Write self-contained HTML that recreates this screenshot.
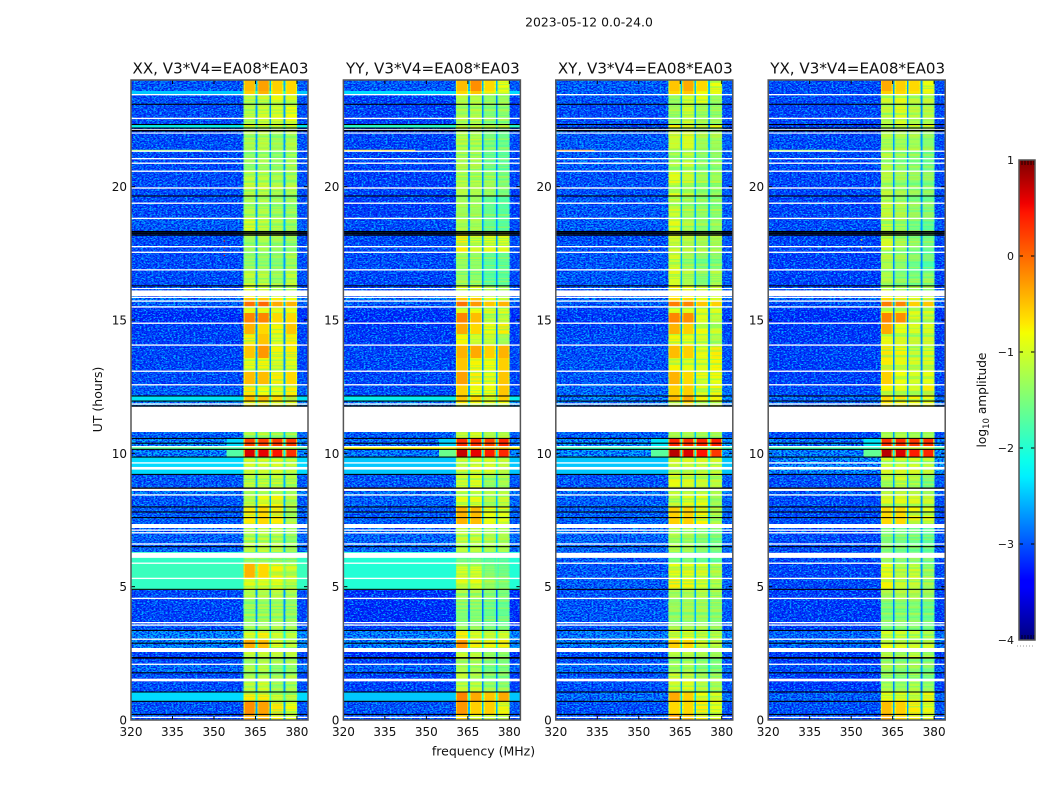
<!DOCTYPE html>
<html>
<head>
<meta charset="utf-8">
<title>2023-05-12 0.0-24.0</title>
<style>
html,body{margin:0;padding:0;background:#fff;width:1050px;height:800px;overflow:hidden}
svg{display:block}
text{font-family:"DejaVu Sans","Liberation Sans",sans-serif;fill:#111}
</style>
</head>
<body>
<svg id="chart" xmlns="http://www.w3.org/2000/svg" width="1050" height="800" viewBox="0 0 1050 800">
<defs>
<filter id="speckle-light" x="0" y="0" width="1" height="1" color-interpolation-filters="sRGB">
<feTurbulence type="fractalNoise" baseFrequency="0.5 0.7" numOctaves="2" seed="4"/>
<feColorMatrix type="matrix" values="0 0 0 0 0  0 0 0 0 0.72  0 0 0 0 1  11 0 0 0 -5.2"/>
</filter>
<filter id="speckle-dark" x="0" y="0" width="1" height="1" color-interpolation-filters="sRGB">
<feTurbulence type="fractalNoise" baseFrequency="0.5 0.7" numOctaves="2" seed="11"/>
<feColorMatrix type="matrix" values="0 0 0 0 0  0 0 0 0 0.06  0 0 0 0 0.92  11 0 0 0 -5.2"/>
</filter>
<filter id="band-stripes" x="0" y="0" width="1" height="1" color-interpolation-filters="sRGB">
<feTurbulence type="fractalNoise" baseFrequency="0.004 0.42" numOctaves="2" seed="7"/>
<feColorMatrix type="matrix" values="0 0 0 0 0.25  0 0 0 0 1  0 0 0 0 0.6  12 0 0 0 -6"/>
</filter>
<filter id="band-stripes-warm" x="0" y="0" width="1" height="1" color-interpolation-filters="sRGB">
<feTurbulence type="fractalNoise" baseFrequency="0.004 0.42" numOctaves="2" seed="19"/>
<feColorMatrix type="matrix" values="0 0 0 0 1  0 0 0 0 0.92  0 0 0 0 0  12 0 0 0 -6"/>
</filter>
<linearGradient id="jet-gradient" x1="0" y1="1" x2="0" y2="0">
<stop offset="0" stop-color="#00007f"/>
<stop offset="0.11" stop-color="#0000ff"/>
<stop offset="0.125" stop-color="#0000ff"/>
<stop offset="0.34" stop-color="#00f0ff"/>
<stop offset="0.375" stop-color="#0cffea"/>
<stop offset="0.5" stop-color="#7cff7a"/>
<stop offset="0.64" stop-color="#f5ff00"/>
<stop offset="0.66" stop-color="#ffe800"/>
<stop offset="0.89" stop-color="#ff1500"/>
<stop offset="0.91" stop-color="#f00000"/>
<stop offset="1" stop-color="#7f0000"/>
</linearGradient>
</defs>
</svg>
<script>
// ----- chart data (log10 amplitude) -----
const panelTitles = ["XX, V3*V4=EA08*EA03", "YY, V3*V4=EA08*EA03", "XY, V3*V4=EA08*EA03", "YX, V3*V4=EA08*EA03"];
const frequencyTicks = [320, 335, 350, 365, 380];
const hourTicks = [0, 5, 10, 15, 20];
const colorbarTicks = [1, 0, -1, -2, -3, -4];
const subbandEdges = [[360.7, 365.1], [365.7, 370.1], [370.7, 375.1], [375.8, 380.1]];
const segmentStartHours = [24, 23.59, 23.44, 23.1, 22.33, 22.2, 21.32, 20.59, 19.65, 18.79, 18.3, 17.55, 16.84, 16.28, 15.85, 15.71, 15.49, 15.26, 14.89, 14.48, 14.06, 13.58, 13.09, 12.56, 12.15, 11.96, 10.8, 10.58, 10.28, 10.16, 9.86, 9.19, 8.59, 8.4, 7.99, 7.2, 6.3, 5.89, 5.33, 4.88, 4.54, 3.56, 3.34, 3.0, 2.55, 2.29, 2.06, 1.76, 1.46, 1.05, 0.71, 0.22];

// each row: [background, subband1, subband2, subband3, subband4]
const xxRows = [
[-2.9,-.45,-.3,-.55,-.6],[-2.4,-.55,-.4,-.6,-.6],[-2.95,-1.15,-1.05,-.8,-.95],[-3,-1.15,-1,-.95,-.8],[-2.2,-.75,-.85,-.85,-.85],
[-3,-1.25,-1.15,-1.3,-1.2],[-3,-1.35,-1.25,-1.35,-1.25],[-3,-1.1,-1.1,-1.2,-1.2],[-3,-1.2,-1.2,-1.3,-1.35],[-2.85,-.95,-1.1,-1.2,-1.3],
[-3,-1.3,-1.2,-1.3,-1.4],[-3,-1.4,-1.4,-1.45,-1.3],[-3,-1.1,-1.15,-1.3,-1.1],[-3,-.8,-.9,-1.1,-1.1],[-2.6,-.5,-.5,-.7,-.8],
[-2.8,-.05,0,-.35,-.4],[-3.2,-.8,-.8,-.85,-.8],[-3.25,-.15,-.15,-.6,-.6],[-3.1,-.4,-.6,-.75,-.5],[-3.1,-.7,-.5,-.9,-.7],
[-3.05,-.5,-.25,-.75,-.7],[-3.05,-.85,-.75,-.95,-.9],[-3,-.45,-.45,-.7,-.6],[-2.85,-.65,-.8,-.85,-.7],[-2.25,-.45,-.45,-.6,-.65],
[-2.5,-.7,-.7,-.8,-.8],[-2.8,-1.25,-1.15,-1.3,-1.3],[-2.5,.2,.2,.25,.25],[-1.7,-.9,-.9,-.9,-.9],[-2.55,.6,.55,.45,.3],
[-2.3,-1,-1,-.95,-1.1],[-2.9,-1.1,-1.05,-1,-1.1],[-2.6,-1.2,-1.15,-1.15,-1.25],[-2.9,-1.15,-.8,-.75,-1.2],[-2.85,-.7,-.6,-.7,-1.2],
[-2.8,-1.15,-1.1,-1.15,-1.35],[-1.95,-1.4,-1.4,-1.5,-1.5],[-1.9,-.4,-.6,-.75,-1],[-1.95,-.9,-.9,-.85,-1.1],[-3,-1.2,-1.2,-1.15,-1.25],
[-3.05,-1.35,-1.3,-1.3,-1.4],[-2.9,-1.2,-1.2,-1.2,-1.3],[-2.5,-.95,-.7,-1,-1.1],[-2.5,-.35,-.45,-.9,-1.1],[-3.1,-1.1,-1.1,-1.15,-1.2],
[-3,-1.35,-1.2,-1.3,-1.3],[-2.7,-1.25,-1.15,-1.4,-1.35],[-3,-1.2,-1.2,-1.35,-1.25],[-3,-1.15,-1,-1.3,-1.25],[-2.3,-.7,-.7,-1.05,-1.15],
[-2.95,-.2,-.3,-.65,-.8],[-3,-.35,-.4,-.7,-.85]];
const yyRows = [
[-2.9,-.45,-.2,-.6,-.8],[-2.3,-.6,-.5,-.7,-.9],[-3.1,-1.15,-1.15,-1.35,-1.3],[-3.1,-1.25,-1.2,-1.45,-1.4],[-2,-.9,-.9,-1.1,-1.15],
[-3.05,-1.15,-1.2,-1.5,-1.6],[-3.05,-1.3,-1.3,-1.7,-1.75],[-3.1,-1.15,-1.2,-1.3,-1.5],[-3.1,-1.3,-1.3,-1.65,-1.75],[-3,-1.2,-1.25,-1.65,-1.75],
[-3,-.7,-1,-.9,-.9],[-3,-1.3,-1.35,-1.7,-1.7],[-3.05,-1.35,-1.4,-1.75,-1.7],[-3,-.9,-.9,-1.2,-1.3],[-2.6,-.5,-.5,-.8,-1],
[-2.9,-.05,-.25,-.5,-.4],[-3.2,-.9,-.8,-.9,-.9],[-3.25,-.15,-.45,-1.1,-1.1],[-3.15,-.35,-.6,-.8,-.7],[-3.15,-.75,-1,-1.05,-1.3],
[-3.05,-.4,-.35,-.55,-.4],[-3.05,-.5,-.75,-.8,-.55],[-3.05,-.3,-.7,-.85,-.5],[-3,-.55,-.8,-.8,-.5],[-2.2,-.5,-.6,-.8,-.55],
[-2.5,-.7,-.8,-.9,-.8],[-2.85,-1.1,-.95,-1.2,-1.15],[-2.7,.3,.3,.2,.35],[-.75,-.5,-.5,-.5,-.5],[-2.6,.7,.55,.4,.35],
[-2.4,-1.05,-.95,-.95,-1.1],[-2.9,-1,-.9,-1.35,-1.25],[-2.7,-1,-1,-1.1,-1.1],[-2.8,-.85,-.85,-1.2,-1.05],[-2.85,-.4,-.45,-.8,-.85],
[-2.75,-1.1,-1.1,-1.2,-1.2],[-2.05,-1.6,-1.6,-1.8,-1.8],[-2.05,-.95,-.95,-1.45,-1.6],[-2.05,-.9,-.85,-1.3,-1.5],[-3.25,-1.25,-1.25,-1.45,-1.5],
[-3.25,-1.45,-1.45,-1.6,-1.65],[-3.1,-1.3,-1.3,-1.5,-1.5],[-2.55,-.7,-.95,-1.05,-1],[-2.55,-.25,-.7,-.75,-.7],[-3.25,-1.05,-1.1,-1.3,-1.3],
[-3.1,-1.3,-1.2,-1.5,-1.5],[-2.8,-1.2,-1.25,-1.55,-1.5],[-3.1,-1.1,-1.25,-1.5,-1.5],[-3.1,-1.1,-1.1,-1.35,-1.4],[-2.4,-.15,-.35,-.5,-.35],
[-2.9,-.25,-.55,-.55,-.75],[-3,-.6,-.8,-.95,-1.1]];
const xyRows = [
[-2.85,-.5,-.35,-.6,-.8],[-2.8,-.6,-.5,-.8,-.85],[-2.9,-1.3,-.95,-.85,-1.3],[-3,-1.3,-1,-1.3,-1.35],[-3,-.75,-.95,-1.1,-.85],
[-2.85,-1.05,-.95,-1.3,-1.3],[-2.85,-1.2,-1.05,-1.4,-1.4],[-2.95,-.9,-1.05,-1.3,-1.3],[-2.9,-1,-1.25,-1.35,-1.4],[-2.85,-.9,-1.2,-1.4,-1.35],
[-2.95,-1.05,-1.2,-1.3,-1.3],[-2.9,-1,-1.35,-1.55,-1.5],[-2.9,-.95,-1.2,-1.45,-1.2],[-2.9,-.7,-.8,-1,-1],[-2.7,-.6,-.6,-.8,-.9],
[-2.85,-.1,-.15,-.5,-.55],[-3.1,-.85,-.85,-.85,-.9],[-3.15,-.15,-.2,-.9,-1.1],[-3.05,-.4,-.55,-.8,-1],[-3,-.75,-.85,-.95,-1.2],
[-2.95,-.45,-.55,-.85,-.7],[-2.95,-.75,-.85,-.9,-.75],[-2.9,-.4,-.6,-.85,-.8],[-2.75,-.55,-.55,-.85,-.75],[-2.55,-.45,-.35,-.75,-.75],
[-2.6,-.7,-.6,-.85,-.8],[-2.8,-1.25,-1.25,-1.3,-1.3],[-2.45,.35,.3,.35,.4],[-1.9,-1,-1,-1,-1],[-2.45,.75,.6,.45,.25],
[-2.4,-1.05,-1,-1,-1.05],[-2.9,-.85,-.95,-1.05,-1.15],[-2.65,-1.1,-1.1,-1.1,-1.2],[-2.8,-1.1,-.85,-.8,-1.25],[-2.8,-.55,-.55,-.75,-1.2],
[-2.75,-1.15,-1.2,-1.4,-1.55],[-2.9,-1.45,-1.4,-1.6,-1.7],[-2.9,-.85,-.85,-.95,-1.2],[-2.85,-.7,-.75,-.95,-1.15],[-2.95,-1.3,-1.25,-1.2,-1.3],
[-2.9,-1.45,-1.35,-1.35,-1.45],[-2.9,-1.3,-1.3,-1.25,-1.4],[-2.6,-.9,-.8,-1,-1.1],[-2.6,-.55,-.6,-1,-1.1],[-2.95,-1.1,-1.1,-1.2,-1.3],
[-2.95,-1.3,-1.2,-1.35,-1.45],[-2.7,-1.25,-1.2,-1.45,-1.5],[-2.95,-1.05,-1.15,-1.35,-1.4],[-2.95,-1.05,-.95,-1.2,-1.3],[-2.7,-.35,-.55,-.8,-.9],
[-2.95,-.6,-.6,-.7,-.85],[-3,-.3,-.5,-.7,-.85]];
const yxRows = [
[-3,-.35,-.55,-.6,-.8],[-3,-.55,-.6,-.65,-.85],[-3,-1.05,-.9,-1.2,-1.15],[-3.05,-1.15,-.95,-1.2,-1.2],[-3.05,-.85,-.75,-.75,-.75],
[-3,-1.2,-1.25,-1.25,-1.4],[-3,-1.2,-1.4,-1.45,-1.6],[-3.05,-1.2,-1.35,-1.45,-1.5],[-3.05,-1.15,-1.3,-1.5,-1.6],[-3,-1.1,-1.3,-1.55,-1.7],
[-3.05,-1,-1.3,-1.45,-1.6],[-3.1,-1.2,-1.4,-1.6,-1.8],[-3.1,-1.2,-1.45,-1.5,-1.4],[-3,-.85,-1,-1.1,-1.2],[-2.75,-.6,-.65,-.85,-1],
[-2.95,-.1,-.15,-.55,-.5],[-3.2,-.8,-.85,-.9,-.9],[-3.25,-.15,-.2,-.9,-1.05],[-3.15,-.35,-.85,-.95,-.95],[-3.15,-.85,-1,-1.15,-1.05],
[-3.1,-.65,-.75,-1.1,-.95],[-3.1,-.7,-.85,-1,-.95],[-3.1,-.55,-.8,-.95,-.85],[-3,-.75,-.85,-.95,-.7],[-2.75,-.6,-.65,-.75,-.8],
[-2.75,-.7,-.8,-.85,-.85],[-3,-1.2,-1.15,-1.25,-1.25],[-2.6,.3,.3,.25,.3],[-1.85,-1,-1,-1,-1],[-2.55,.75,.6,.4,.35],
[-2.5,-1,-1,-1,-1.1],[-2.95,-1.1,-.95,-1.15,-1.5],[-2.8,-1.15,-1.15,-1.2,-1.4],[-3,-.95,-.9,-.95,-1.05],[-3,-.6,-.6,-.75,-.85],
[-3,-1.5,-1.55,-1.6,-1.7],[-3,-1.45,-1.6,-1.55,-1.7],[-3.05,-.85,-1.15,-1.05,-1.35],[-3.05,-.75,-1.05,-1.1,-1.3],[-3.15,-1.3,-1.25,-1.25,-1.4],
[-3.15,-1.5,-1.45,-1.45,-1.6],[-3.1,-1.4,-1.4,-1.4,-1.5],[-2.75,-.95,-.95,-1.05,-1.15],[-2.75,-.8,-.9,-1,-1],[-3.15,-1.15,-1.3,-1.1,-1.3],
[-3.15,-1.3,-1.45,-1.35,-1.5],[-2.95,-1.3,-1.45,-1.35,-1.55],[-3.15,-1.2,-1.4,-1.3,-1.5],[-3.15,-1.2,-1.3,-1.15,-1.3],[-2.8,-.8,-.85,-1,-.75],
[-2.95,-.45,-.55,-.7,-.85],[-3,-.35,-.6,-.7,-.85]];
const panelRows = [xxRows, yyRows, xyRows, yxRows];

// brighter shoulder just below the band: [segment index, level]
const xxShoulders = [[27,-2.3],[29,-1.75]];
const yyShoulders = [[27,-2.35],[29,-1.6]];
const xyShoulders = [[27,-2.25],[29,-1.7]];
const yxShoulders = [[27,-2.25],[29,-1.65]];
const panelShoulders = [xxShoulders, yyShoulders, xyShoulders, yxShoulders];

// narrow interference features: [start MHz, end MHz, UT hour, level]
const xxStreaks = [[320,346,21.36,-1.3],[353.5,354,17.96,.6],[353.5,354,17.72,.6],[353.5,354,17.56,.5],[353.5,354,17.42,.6]];
const yyStreaks = [[320,346,21.36,-.6]];
const xyStreaks = [[320,334,21.36,-.2],[353.5,354,18.0,-.6],[353.5,354,17.6,-.5]];
const yxStreaks = [[320,345,21.36,-1.2],[353.5,354,18.0,-.6],[353.5,354,17.7,-.5]];
const panelStreaks = [xxStreaks, yyStreaks, xyStreaks, yxStreaks];

// flagged integrations, in UT hours: [upper, lower]
const blankFlags = [[23.475,23.425],[22.585,22.535],[22.16,22.12],[22.03,21.99],[21.355,21.305],[21.075,21.025],[20.905,20.855],[20.605,20.555],[19.975,19.925],[19.405,19.355],[18.835,18.785],[17.775,17.725],[17.565,17.515],[16.905,16.855],[16.2,16.16],[16.11,15.9],[15.875,15.825],[15.735,15.685],[15.515,15.465],[14.905,14.855],[14.085,14.035],[13.105,13.055],[12.595,12.545],[11.875,11.825],[11.75,10.8],[10.275,10.225],[9.665,9.615],[9.49,9.39],[8.72,8.59],[8.465,8.415],[7.35,7.2],[7.145,7.095],[7.045,6.995],[6.625,6.575],[6.27,6.08],[5.905,5.855],[5.335,5.285],[4.585,4.535],[3.675,3.625],[3.585,3.535],[3.055,3.005],[2.7,2.55],[2.115,2.065],[1.55,1.45],[0.125,0.075]];
const missingFlags = [[23.11,23.07],[22.35,22.31],[22.22,22.18],[22.13,22.07],[19.67,19.63],[18.34,18.27],[18.26,18.21],[18.2,18.16],[16.3,16.26],[12.17,12.13],[11.98,11.94],[11.8,11.75],[10.58,10.54],[10.4,10.36],[10.17,10.13],[9.88,9.84],[9.23,9.19],[8.72,8.67],[8.01,7.97],[7.82,7.78],[7.61,7.57],[6.52,6.48],[4.92,4.88],[3.38,3.34],[2.9,2.86],[2.36,2.3],[1.79,1.75],[1.07,1.03],[0.72,0.68],[0.23,0.19]];

// ----- layout and axis functions -----
const svg = document.getElementById('chart');
const SVGNS = 'http://www.w3.org/2000/svg';
const plotTop = 80, plotHeight = 640, plotWidth = 177, firstLeft = 131, panelStep = 212.4;
const freqMin = 320, freqMax = 384, hourMin = 0, hourMax = 24;
const levelMin = -4, levelMax = 1;
const cbLeft = 1019, cbWidth = 16, cbTop = 160, cbHeight = 480;
const calmLevel = -2.45, hotLevel = -0.65;

function panelLeft(i) { return firstLeft + i * panelStep; }
function xScale(i, f) { return panelLeft(i) + (f - freqMin) / (freqMax - freqMin) * plotWidth; }
function yScale(h) { return plotTop + (hourMax - h) / (hourMax - hourMin) * plotHeight; }
function cbScale(v) { return cbTop + (levelMax - v) / (levelMax - levelMin) * cbHeight; }

function ramp(t, pts) {
  for (let k = 1; k < pts.length; k++) {
    if (t <= pts[k][0]) {
      const a = pts[k - 1], b = pts[k];
      return a[1] + (b[1] - a[1]) * (t - a[0]) / (b[0] - a[0]);
    }
  }
  return pts[pts.length - 1][1];
}
function jet(v) {
  const t = Math.max(0, Math.min(1, (v - levelMin) / (levelMax - levelMin)));
  const r = ramp(t, [[0, 0], [.35, 0], [.66, 1], [.89, 1], [1, .5]]);
  const g = ramp(t, [[0, 0], [.125, 0], [.375, 1], [.64, 1], [.91, 0], [1, 0]]);
  const b = ramp(t, [[0, .5], [.11, 1], [.34, 1], [.65, 0], [1, 0]]);
  return 'rgb(' + Math.round(r * 255) + ',' + Math.round(g * 255) + ',' + Math.round(b * 255) + ')';
}

function addRect(parent, name, x, y, w, h, fill, crisp) {
  const el = document.createElementNS(SVGNS, 'rect');
  
  
  el.setAttribute('x', x);
  el.setAttribute('y', y);
  el.setAttribute('width', w);
  el.setAttribute('height', h);
  el.setAttribute('fill', fill);
  if (crisp) el.setAttribute('shape-rendering', 'crispEdges');
  parent.appendChild(el);
  return el;
}
function addLine(parent, name, x1, y1, x2, y2, color, width) {
  const el = document.createElementNS(SVGNS, 'line');
  
  
  el.setAttribute('x1', x1);
  el.setAttribute('y1', y1);
  el.setAttribute('x2', x2);
  el.setAttribute('y2', y2);
  el.setAttribute('stroke', color);
  el.setAttribute('stroke-width', width);
  parent.appendChild(el);
  return el;
}
function addText(parent, name, str, x, y, size, anchor, rotate) {
  const el = document.createElementNS(SVGNS, 'text');
  
  
  el.setAttribute('x', x);
  el.setAttribute('y', y);
  el.setAttribute('font-size', size);
  el.setAttribute('text-anchor', anchor);
  if (rotate) el.setAttribute('transform', 'rotate(-90 ' + x + ' ' + y + ')');
  el.textContent = str;
  parent.appendChild(el);
  return el;
}
function addTexture(parent, name, x, w, filterId, opacity) {
  const el = addRect(parent, name, x, plotTop, w, plotHeight, '#000');
  el.setAttribute('filter', 'url(#' + filterId + ')');
  el.setAttribute('opacity', opacity);
  return el;
}

// ----- panels -----
panelTitles.forEach(function (title, p) {
  const g = document.createElementNS(SVGNS, 'g');
  
  
  svg.appendChild(g);

  const rows = panelRows[p];
  const left = xScale(p, freqMin), right = xScale(p, freqMax);
  const bandL = xScale(p, 360.7), bandR = xScale(p, 380.1);

  function segTop(s) { return yScale(segmentStartHours[s]); }
  function segHeight(s) {
    const lower = s + 1 < segmentStartHours.length ? segmentStartHours[s + 1] : hourMin;
    return yScale(lower) - segTop(s);
  }

  // background level per time segment, then receiver-noise speckle
  rows.forEach(function (row, s) {
    addRect(g, 'background-cell', left, segTop(s), right - left, segHeight(s), jet(row[0]), true);
  });
  addTexture(g, 'speckle-texture', left, bandL - left, 'speckle-light', 0.85);
  addTexture(g, 'speckle-texture', left, bandL - left, 'speckle-dark', 0.85);
  addTexture(g, 'speckle-texture', bandR, right - bandR, 'speckle-light', 0.7);
  addTexture(g, 'speckle-texture', bandR, right - bandR, 'speckle-dark', 0.7);

  // bright rows are smooth in the reference, and all subbands sit on top
  rows.forEach(function (row, s) {
    const top = segTop(s), h = segHeight(s);
    if (row[0] > calmLevel) {
      addRect(g, 'bright-row-cell', left, top, right - left, h, jet(row[0]), true);
    }
    addRect(g, 'band-floor-cell', bandL, top, bandR - bandL, h, jet(row[0] + 0.4), true);
    subbandEdges.forEach(function (edge, b) {
      const lvl = row[b + 1];
      const x0 = xScale(p, edge[0]), x1 = xScale(p, edge[1]);
      const edgeLvl = lvl - 0.2 - 0.6 * Math.max(0, lvl + 0.3);
      addRect(g, 'subband-cell', x0, top, x1 - x0, h, jet(edgeLvl), true);
      addRect(g, 'subband-cell', x0 + 1.2, top, x1 - x0 - 2.4, h, jet(lvl), true);
    });
  });

  panelShoulders[p].forEach(function (item) {
    const s = item[0];
    const x0 = xScale(p, 354.5);
    addRect(g, 'shoulder-cell', x0, segTop(s), bandL - x0, segHeight(s), jet(item[1]), true);
  });

  subbandEdges.forEach(function (edge) {
    const x0 = xScale(p, edge[0]);
    addTexture(g, 'band-stripe-texture', x0, xScale(p, edge[1]) - x0, 'band-stripes', 0.4);
    addTexture(g, 'band-stripe-texture', x0, xScale(p, edge[1]) - x0, 'band-stripes-warm', 0.3);
  });

  // hot subband cells stay saturated above the striping
  rows.forEach(function (row, s) {
    subbandEdges.forEach(function (edge, b) {
      const lvl = row[b + 1];
      if (lvl > hotLevel) {
        const x0 = xScale(p, edge[0]), x1 = xScale(p, edge[1]);
        addRect(g, 'hot-subband-cell', x0 + 1.2, segTop(s), x1 - x0 - 2.4, segHeight(s), jet(lvl), true);
      }
    });
  });

  panelStreaks[p].forEach(function (st) {
    addRect(g, 'interference-streak', xScale(p, st[0]), yScale(st[2]) - 0.6, xScale(p, st[1]) - xScale(p, st[0]), 1.2, jet(st[3]));
  });

  blankFlags.forEach(function (fl) {
    addRect(g, 'blank-flag', left, yScale(fl[0]), right - left, yScale(fl[1]) - yScale(fl[0]), '#ffffff');
  });
  missingFlags.forEach(function (fl) {
    addRect(g, 'missing-flag', left, yScale(fl[0]), right - left, yScale(fl[1]) - yScale(fl[0]), '#000000');
  });

  frequencyTicks.forEach(function (f) {
    const x = xScale(p, f);
    addLine(g, 'x-tick', x, plotTop + plotHeight, x, plotTop + plotHeight - 4, '#000', 1);
    addLine(g, 'x-tick', x, plotTop, x, plotTop + 4, '#000', 1);
    addText(g, 'x-tick-label', String(f), x, 736, 12, 'middle');
  });
  hourTicks.forEach(function (h) {
    const y = yScale(h);
    addLine(g, 'y-tick', left, y, left + 4, y, '#000', 1);
    addLine(g, 'y-tick', right, y, right - 4, y, '#000', 1);
    addText(g, 'y-tick-label', String(h), left - 4, y + 4.5, 12, 'end');
  });

  const frame = addRect(g, 'plot-frame', left, plotTop, right - left, plotHeight, 'none');
  frame.setAttribute('stroke', '#555');
  frame.setAttribute('stroke-width', '1.5');

  addText(g, 'panel-title', title, (left + right) / 2 + 1, 73.5, 15.1, 'middle');
});

addText(svg, 'figure-title', '2023-05-12 0.0-24.0', 589, 26.5, 12.4, 'middle');
addText(svg, 'x-axis-title', 'frequency (MHz)', 483.5, 755.5, 12.5, 'middle');
addText(svg, 'y-axis-title', 'UT (hours)', 102, 399.5, 12.5, 'middle', true);

// ----- colorbar -----
const cb = document.createElementNS(SVGNS, 'g');


svg.appendChild(cb);
addRect(cb, 'colorbar-gradient', cbLeft, cbTop, cbWidth, cbHeight, 'url(#jet-gradient)');
colorbarTicks.forEach(function (v) {
  const y = cbScale(v);
  if (v > levelMin && v < levelMax) {
    addLine(cb, 'colorbar-tick', cbLeft, y, cbLeft + 4, y, '#000', 1);
    addLine(cb, 'colorbar-tick', cbLeft + cbWidth, y, cbLeft + cbWidth - 4, y, '#000', 1);
  }
  addText(cb, 'colorbar-tick-label', String(v).replace('-', '\u2212'), 1014, y + 4, 11, 'end');
});
[1022, 1025, 1028, 1031, 1034].forEach(function (x) {
  addLine(cb, 'colorbar-minor-tick', x, cbTop, x, cbTop + 5, '#000', 0.8);
  addLine(cb, 'colorbar-minor-tick', x, cbTop + cbHeight, x, cbTop + cbHeight - 5, '#000', 0.8);
});
const cbFrame = addRect(cb, 'colorbar-frame', cbLeft, cbTop, cbWidth, cbHeight, 'none');
cbFrame.setAttribute('stroke', '#555');
cbFrame.setAttribute('stroke-width', '1.5');
const cbDots = addLine(cb, 'colorbar-minor-labels', 1017, 646, 1035, 646, '#999', 1);
cbDots.setAttribute('stroke-dasharray', '1 2');

const cbLabel = addText(cb, 'colorbar-title', 'log', 986, 400, 12.2, 'middle', true);
const sub = document.createElementNS(SVGNS, 'tspan');


sub.setAttribute('font-size', '8.5');
sub.setAttribute('dy', '3');
sub.textContent = '10';
cbLabel.appendChild(sub);
const rest = document.createElementNS(SVGNS, 'tspan');


rest.setAttribute('dy', '-3');
rest.textContent = ' amplitude';
cbLabel.appendChild(rest);
</script>
</body>
</html>
